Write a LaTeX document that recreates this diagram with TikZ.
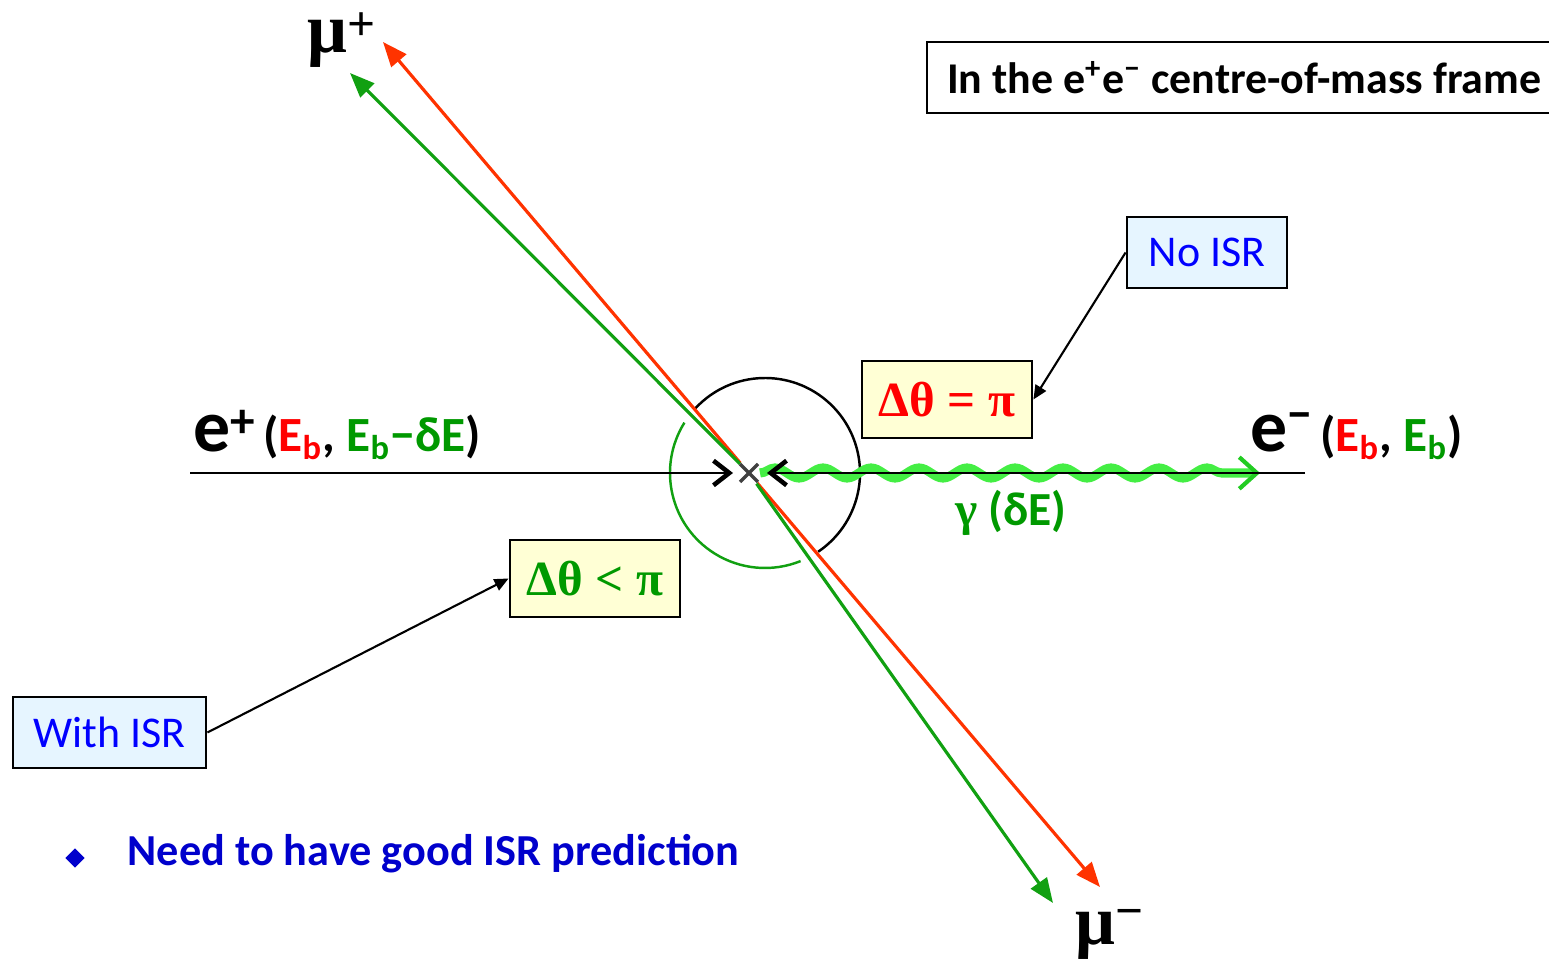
\documentclass[tikz,border=0pt]{standalone}
\usepackage{fontspec}
\setmainfont{Carlito}
\newfontfamily\greekserif{Liberation Serif}
\usetikzlibrary{arrows.meta, decorations.pathmorphing, shapes.geometric}

\definecolor{redtxt}{HTML}{FF0000}
\definecolor{redline}{HTML}{FF3300}
\definecolor{greentxt}{HTML}{009900}
\definecolor{greenline}{HTML}{11A011}
\definecolor{photongreen}{HTML}{44EE44}
\definecolor{photontip}{HTML}{22CC22}
\definecolor{boxyellow}{HTML}{FFFFD5}
\definecolor{boxblue}{HTML}{E6F5FF}
\definecolor{isrblue}{HTML}{0000FF}
\definecolor{noteblue}{HTML}{0000CC}

\newcommand{\supr}[2]{\raisebox{#1}{\fontsize{14}{14}\selectfont #2}}

\begin{document}
\begin{tikzpicture}[
    anglebox/.style={draw, line width=0.8pt, fill=boxyellow, minimum width=1.70cm, minimum height=0.77cm, inner sep=0pt, font=\greekserif\bfseries\fontsize{14}{14}\selectfont},
    isrbox/.style={draw, line width=0.8pt, fill=boxblue, minimum height=0.71cm, inner sep=0pt, text=isrblue, font=\fontsize{12.5}{12.5}\selectfont},
    muline/.style={line width=0.9pt, {Triangle[length=7pt,width=5.5pt]}-{Triangle[length=7pt,width=5.5pt]}},
    beam/.style={line width=0.5pt, -{Straight Barb[line width=1.3pt, length=4.5pt, width=7pt]}},
    pointer/.style={line width=0.6pt, -{Triangle[length=4pt,width=3.5pt]}},
    photon/.style={photongreen, line width=2.6pt, decorate, decoration={snake, segment length=0.48cm, amplitude=0.05cm, post length=0.2cm}},
    lbl/.style={anchor=base west, inner sep=0pt},
]
    \useasboundingbox (0,0) rectangle (15.49,-9.59);

    % Coordinates
    \coordinate (IP) at (7.49,-4.73);
    \coordinate (ctr) at (7.65,-4.73);
    \coordinate (epin) at (1.90,-4.73);
    \coordinate (emin) at (13.05,-4.73);
    \coordinate (epend) at (7.33,-4.73);
    \coordinate (emend) at (7.67,-4.73);
    \coordinate (mupred) at (3.83,-0.42);
    \coordinate (mumred) at (11.00,-8.87);
    \coordinate (mupgreen) at (3.50,-0.73);
    \coordinate (mumgreen) at (10.53,-9.03);
    \coordinate (gamstart) at (7.60,-4.73);
    \coordinate (gamend) at (12.60,-4.73);

    % Opening angle circles
    \draw[line width=0.7pt] (ctr) ++(137:0.95) arc[start angle=137, end angle=-56, radius=0.95];
    \draw[line width=0.7pt, greenline] (ctr) ++(148:0.95) arc[start angle=148, end angle=292, radius=0.95];

    % ISR photon
    \draw[photon, -{Straight Barb[line width=1.2pt, color=photontip, length=5pt, width=9pt]}] (gamstart) -- (gamend);

    % Beams
    \draw[beam] (epin) -- (epend);
    \draw[beam] (emin) -- (emend);

    % Muons
    \draw[muline, redline] (mupred) -- (mumred);
    \draw[muline, greenline] (mupgreen) -- (IP) -- (mumgreen);

    % Interaction point
    \draw[white, line width=2.2pt] (IP) +(-0.09,-0.09) -- +(0.09,0.09) (IP) +(-0.09,0.09) -- +(0.09,-0.09);
    \draw[black!75, line width=1pt] (IP) +(-0.09,-0.09) -- +(0.09,0.09) (IP) +(-0.09,0.09) -- +(0.09,-0.09);

    % Particle labels
    \node[lbl, font=\greekserif\bfseries\fontsize{20}{20}\selectfont] (mup) at (3.07,-0.53) {μ\supr{3.5pt}{+}};
    \node[lbl, font=\greekserif\bfseries\fontsize{20}{20}\selectfont] (mum) at (10.75,-9.45) {μ\supr{5pt}{−}};
    \node[lbl, font=\bfseries] (eplabel) at (1.93,-4.52) {{\fontsize{21}{21}\selectfont e\supr{4pt}{+}} {\fontsize{14}{14}\selectfont (\textcolor{redtxt}{E\textsubscript{b}}, \textcolor{greentxt}{E\textsubscript{b}−δE})}};
    \node[lbl, font=\bfseries] (emlabel) at (12.50,-4.52) {{\fontsize{21}{21}\selectfont e\supr{6pt}{−}} {\fontsize{14}{14}\selectfont (\textcolor{redtxt}{E\textsubscript{b}}, \textcolor{greentxt}{E\textsubscript{b}})}};
    \node[text=greentxt, font=\bfseries\fontsize{13.5}{13.5}\selectfont] (gamlabel) at (10.11,-5.13) {{\greekserif γ} (δE)};

    % Frame title
    \node[draw, line width=0.6pt, anchor=north west, minimum height=0.71cm, inner xsep=0.2cm, font=\bfseries\fontsize{12.5}{12.5}\selectfont] (frame) at (9.26,-0.41) {\makebox[6.3cm][l]{In the e\textsuperscript{+}e\textsuperscript{−} centre-of-mass frame}};

    % Angle boxes and ISR notes
    \node[anglebox, text=redtxt] (eqbox) at (9.47,-3.995) {Δθ = π};
    \node[anglebox, text=greentxt] (ltbox) at (5.95,-5.785) {Δθ < π};
    \node[isrbox, minimum width=1.60cm] (noisr) at (12.07,-2.525) {No ISR};
    \node[isrbox, minimum width=1.93cm] (withisr) at (1.095,-7.325) {With ISR};
    \draw[pointer] (noisr.west) -- (eqbox.east);
    \draw[pointer] (withisr.east) -- (ltbox.west);

    % Bullet note
    \node[diamond, fill=noteblue, inner sep=0pt, minimum width=0.2cm, minimum height=0.2cm] (bullet) at (0.75,-8.58) {};
    \node[lbl, text=noteblue, font=\bfseries\fontsize{12.6}{12.6}\selectfont] (note) at (1.27,-8.66) {Need to have good ISR prediction};
\end{tikzpicture}
\end{document}
